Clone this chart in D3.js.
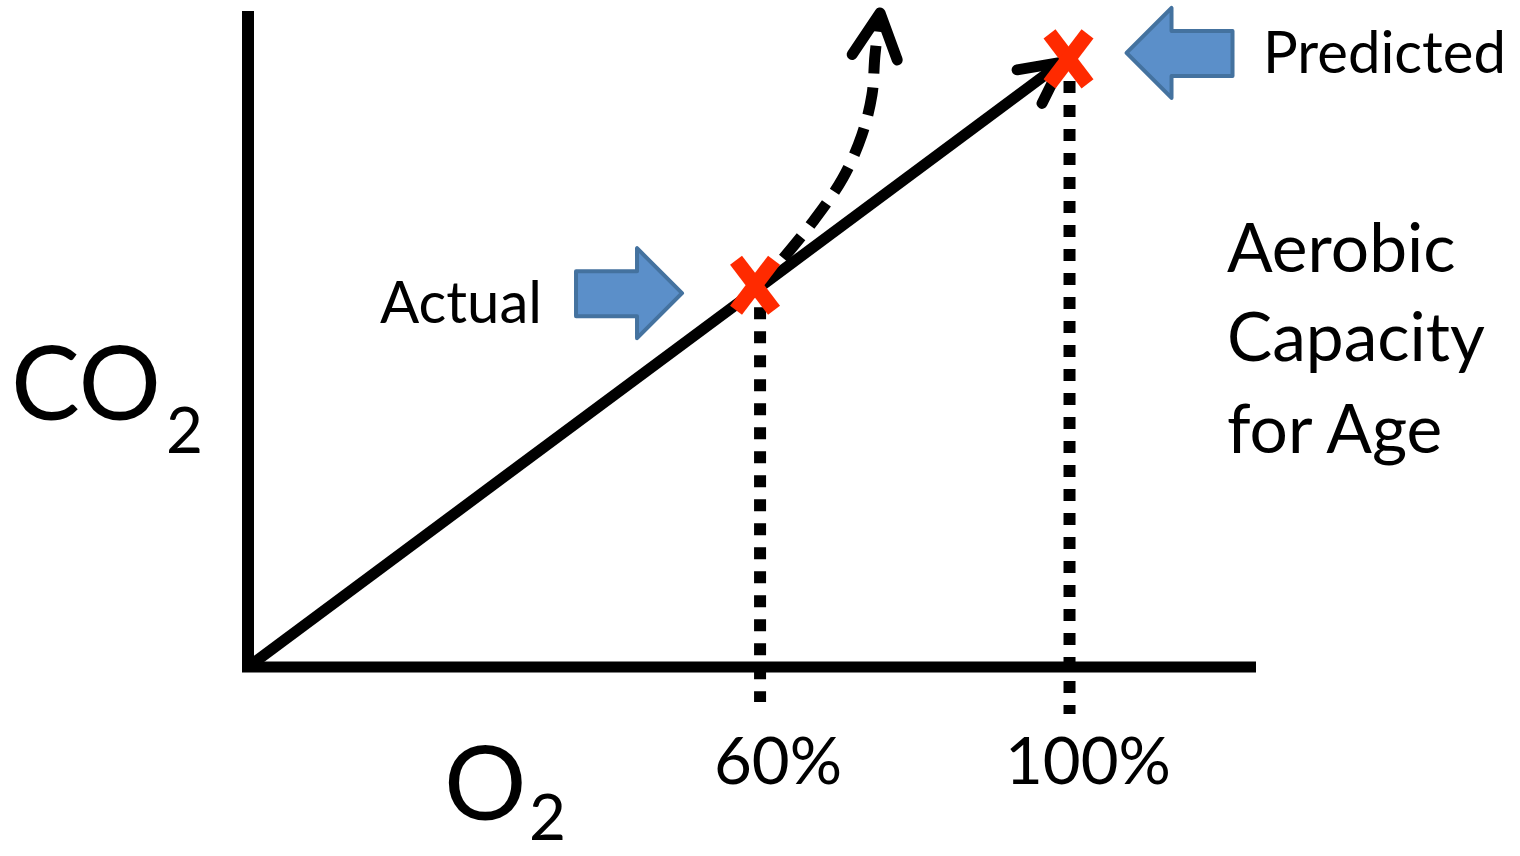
<!DOCTYPE html>
<html><head><meta charset="utf-8">
<script src="https://cdn.jsdelivr.net/npm/d3@7"></script>
<style>html,body{margin:0;padding:0;background:#fff;} svg{display:block;}</style>
</head><body><svg id="chart" width="1520" height="856"></svg>
<script>
// ---------------- data (schematic units 0–100 on both axes) ----------------
const pointNames = ["Actual", "Predicted"];
const pointO2  = [50.3, 81.4];
const pointCO2 = [58.2, 92.7];
const tickValues = [50.8, 81.5];
const tickLabels = ["60%", "100%"];
const lineO2  = [0, 80.8];
const lineCO2 = [0, 92.2];
const riseO2  = [53.1, 56.0, 59.0, 60.9, 61.9, 62.2, 62.7];
const riseCO2 = [62.3, 67.8, 74.5, 81.1, 87.2, 93.3, 99.7];
const sideText = ["Aerobic", "Capacity", "for Age"];

// ---------------- layout ----------------
const FONT = "Lato, 'Open Sans', sans-serif";
const svg = d3.select("#chart");
const x = d3.scaleLinear().domain([0, 100]).range([248, 1256]);
const y = d3.scaleLinear().domain([0, 100]).range([667, 11]);
const line = d3.line().x(d => x(d[0])).y(d => y(d[1]));

// axes
svg.append("line").attr("x1", x(0)).attr("x2", x(0)).attr("y1", y(100)).attr("y2", y(0) + 5)
  .attr("stroke", "#000").attr("stroke-width", 12);
svg.append("line").attr("x1", x(0) - 6).attr("x2", x(100)).attr("y1", y(0)).attr("y2", y(0))
  .attr("stroke", "#000").attr("stroke-width", 11);

// dotted drop lines
const dropBelow = [35, 47];
tickValues.forEach((v, i) => {
  svg.append("line")
    .attr("x1", x(v)).attr("x2", x(v))
    .attr("y1", y(pointCO2[i]) + 22).attr("y2", y(0) + dropBelow[i])
    .attr("stroke", "#000").attr("stroke-width", 12)
    .attr("stroke-dasharray", "12 12");
});

// arrowhead helper (open chevron)
function chevron(p0, p1, len, angDeg) {
  const a = Math.atan2(p0[1] - p1[1], p0[0] - p1[0]);
  const t = angDeg * Math.PI / 180;
  const l = [p1[0] + len * Math.cos(a + t), p1[1] + len * Math.sin(a + t)];
  const r = [p1[0] + len * Math.cos(a - t), p1[1] + len * Math.sin(a - t)];
  return `M${l[0]},${l[1]}L${p1[0]},${p1[1]}L${r[0]},${r[1]}`;
}

// main diagonal
const mainPts = lineO2.map((v, i) => [v, lineCO2[i]]);
svg.append("path").attr("d", line(mainPts))
  .attr("stroke", "#000").attr("stroke-width", 11).attr("fill", "none");
const mp = mainPts.map(d => [x(d[0]), y(d[1])]);
svg.append("path").attr("d", chevron(mp[0], mp[1], 46, 27))
  .attr("stroke", "#000").attr("stroke-width", 11).attr("fill", "none")
  .attr("stroke-linecap", "round").attr("stroke-linejoin", "round");

// dashed rising curve
const risePts = riseO2.map((v, i) => [v, riseCO2[i]]);
svg.append("path")
  .attr("d", d3.line().x(d => x(d[0])).y(d => y(d[1])).curve(d3.curveCatmullRom)(risePts))
  .attr("stroke", "#000").attr("stroke-width", 11).attr("fill", "none")
  .attr("stroke-dasharray", "28 14");
const rp = risePts.map(d => [x(d[0]), y(d[1])]);
svg.append("path").attr("d", chevron(rp[rp.length - 2], rp[rp.length - 1], 50, 27))
  .attr("stroke", "#000").attr("stroke-width", 11).attr("fill", "none")
  .attr("stroke-linecap", "round").attr("stroke-linejoin", "round");

// red X markers
pointNames.forEach((n, i) => {
  const cx = x(pointO2[i]), cy = y(pointCO2[i]);
  const g = svg.append("g").attr("transform", `translate(${cx},${cy})`);
  g.append("line").attr("x1", -19).attr("y1", -25).attr("x2", 19).attr("y2", 25)
    .attr("stroke", "#ff2a00").attr("stroke-width", 15);
  g.append("line").attr("x1", 19).attr("y1", -25).attr("x2", -19).attr("y2", 25)
    .attr("stroke", "#ff2a00").attr("stroke-width", 15);
});

// blue block arrows pointing at markers
const arrowOffset = [[-73, 8], [58, -6]];
const arrowDir = [1, -1]; // 1 = points right, -1 = points left
const arrowShape = [[0, 0], [-45, -45], [-45, -22], [-106, -22], [-106, 23], [-45, 23], [-45, 45]];
pointNames.forEach((n, i) => {
  const tx = x(pointO2[i]) + arrowOffset[i][0], ty = y(pointCO2[i]) + arrowOffset[i][1];
  svg.append("path")
    .attr("d", "M" + arrowShape.map(p => [tx + arrowDir[i] * p[0], ty + p[1]].join(",")).join("L") + "Z")
    .attr("fill", "#5b8fc9").attr("stroke", "#44729f").attr("stroke-width", 4)
    .attr("stroke-linejoin", "round");
});

// text helpers: fit to target width
function fitSize(str, target) {
  const t = svg.append("text").attr("font-family", FONT).attr("font-size", 100).text(str);
  const w = t.node().getComputedTextLength();
  t.remove();
  return 100 * target / w;
}
function label(str, lx, by, size) {
  return svg.append("text").attr("x", lx).attr("y", by)
    .attr("font-family", FONT).attr("font-size", size).attr("fill", "#000").text(str);
}

// point labels
const nameLayout = [[382, 323], [1265, 73]];
const nameSize = fitSize(pointNames[1], 243);
pointNames.forEach((n, i) => label(n, nameLayout[i][0] - 2, nameLayout[i][1], nameSize));

// side text block
const sideSize = fitSize(sideText[1], 258);
const sideBase = [272, 361, 453];
sideText.forEach((s, i) => label(s, 1227, sideBase[i], sideSize));

// tick labels
const tickLeft = [714, 1005];
const tickSize = fitSize(tickLabels[1], 166);
tickLabels.forEach((s, i) => label(s, tickLeft[i], 784, tickSize));

// axis titles with subscripts
const bigSize = fitSize("CO", 150);
const subSize = fitSize("2", 37);
label("CO", 11, 420, bigSize);
label("2", 166, 453, subSize);
label("O", 444, 820, bigSize);
label("2", 529, 840, subSize);
</script></body></html>
